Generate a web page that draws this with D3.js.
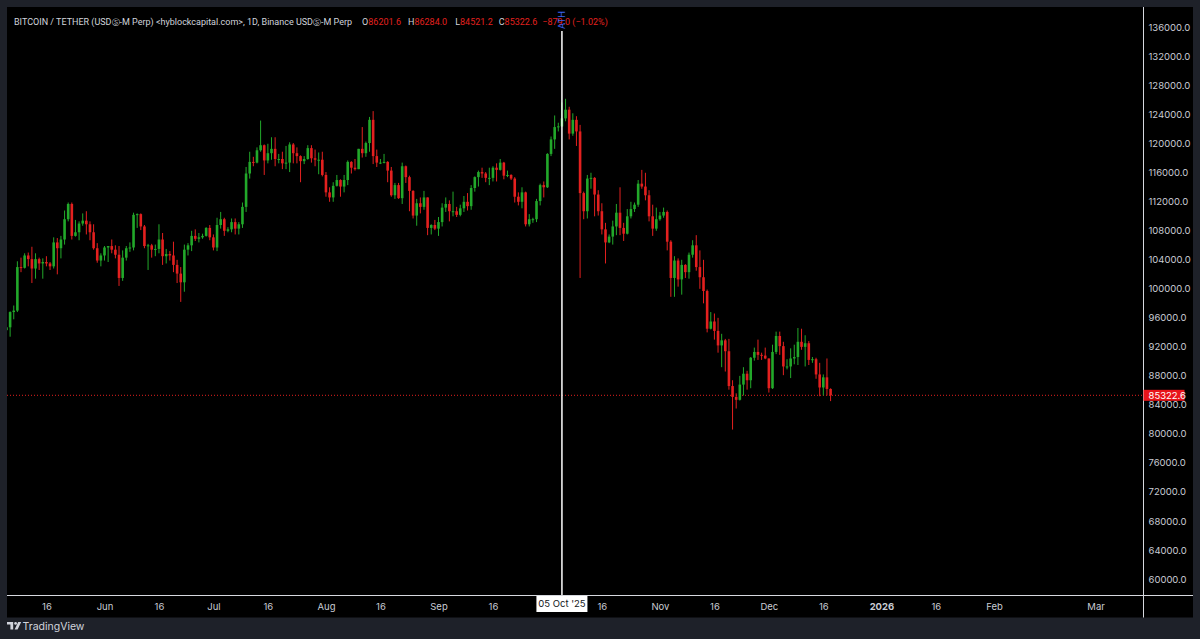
<!DOCTYPE html>
<html>
<head>
<meta charset="utf-8">
<script src="https://cdn.jsdelivr.net/npm/d3@7"></script>
<style>
  html, body { margin: 0; padding: 0; background: #1e2129; }
  svg { display: block; font-family: Inter, "Noto Sans", sans-serif; }
</style>
</head>
<body>
<div id="chart"></div>
<script>
// Daily candles [open, high, low, close], BTCUSDT perp, 1D
var startDay = Date.UTC(2025, 4, 5);   // first candle: 5 May 2025

var mayCandles = [
  [94300, 95200, 93500, 94700], [94700, 96900, 93400, 96800], [96800, 97700, 95800, 97000],
  [97000, 103800, 96800, 103000], [103000, 104300, 102300, 102900], [102900, 104900, 102800, 104600],
  [104600, 105000, 103100, 104100], [104100, 105800, 100800, 102800], [102800, 104900, 101400, 104100],
  [104100, 104300, 102600, 103500], [103500, 104200, 101400, 103700], [103700, 104500, 103100, 103500],
  [103500, 103700, 102600, 103100], [103100, 107100, 102800, 106400], [106400, 107000, 102000, 105600],
  [105600, 107300, 104200, 106800], [106800, 110800, 106100, 109600], [109600, 111900, 109300, 111700],
  [111700, 111900, 106800, 107300], [107300, 109500, 107200, 107800], [107800, 109300, 106700, 109000],
  [109000, 110400, 108700, 109400], [109400, 110700, 107500, 108900], [108900, 109300, 106700, 107800],
  [107800, 108900, 105400, 105600], [105600, 106300, 103600, 103900], [103900, 104900, 103100, 104600]
];
var junCandles = [
  [104600, 105900, 103900, 105700], [105700, 105900, 103700, 105900], [105900, 106800, 104900, 105400],
  [105400, 106000, 104200, 104700], [104700, 105900, 100400, 101500], [101500, 105300, 101100, 104300],
  [104300, 105900, 103900, 105600], [105600, 106400, 105100, 105700], [105700, 110500, 105300, 110200],
  [110200, 110400, 108400, 110300], [110300, 110400, 108100, 108600], [108600, 108800, 105600, 105900],
  [105900, 106200, 102600, 106000], [106000, 106200, 104300, 105400], [105400, 106100, 104500, 105500],
  [105500, 108900, 104900, 106800], [106800, 107700, 103300, 104500], [104500, 105500, 103500, 104800],
  [104800, 105200, 103900, 104600], [104600, 106500, 102300, 103300], [103300, 104000, 100800, 102100],
  [102100, 103000, 98200, 100900], [100900, 106100, 99600, 105400], [105400, 106300, 104600, 106000],
  [106000, 108000, 105200, 107300], [107300, 108200, 106600, 106900], [106900, 107700, 106400, 107100],
  [107100, 107600, 106900, 107300], [107300, 108500, 107200, 108400], [108400, 108800, 106700, 107100]
];
var julCandles = [
  [107100, 107500, 105300, 105700], [105700, 109800, 105200, 108800], [108800, 110600, 108300, 109600],
  [109600, 109800, 107300, 108000], [108000, 108500, 107800, 108200], [108200, 109700, 107800, 109200],
  [109200, 109700, 107500, 108300], [108300, 109200, 107500, 108900], [108900, 111900, 108400, 111300],
  [111300, 116800, 110600, 115900], [115900, 118900, 115200, 117500], [117500, 118200, 116900, 117400],
  [117400, 119500, 117300, 119100], [119100, 123200, 118900, 119800], [119800, 119900, 115700, 117700],
  [117700, 120000, 117300, 118700], [118700, 120900, 117800, 119300], [119300, 120900, 116900, 117900],
  [117900, 118600, 117300, 117900], [117900, 118900, 116500, 117300], [117300, 119700, 116500, 117400],
  [117400, 120200, 116100, 119900], [119900, 120100, 117300, 118700], [118700, 119500, 117300, 118300],
  [118300, 118400, 114700, 117600], [117600, 118300, 117200, 117900], [117900, 119800, 117800, 119400],
  [119400, 119800, 117400, 118000], [118000, 119200, 116900, 117800], [117800, 118800, 115800, 117800],
  [117800, 118900, 115500, 115700]
];
var augCandles = [
  [115700, 116100, 112700, 113300], [113300, 114000, 112000, 112600], [112600, 114700, 112000, 114200],
  [114200, 115700, 114100, 115000], [115000, 115100, 112700, 114100], [114100, 115700, 113300, 115000],
  [115000, 117700, 114300, 117500], [117500, 117600, 115900, 116700], [116700, 117900, 116300, 116500],
  [116500, 119300, 116500, 119300], [119300, 122300, 118100, 118700], [118700, 120300, 118200, 120100],
  [120100, 123700, 118900, 123300], [123300, 124500, 117200, 118300], [118300, 119200, 116800, 117400],
  [117400, 117900, 117200, 117400], [117400, 118600, 117300, 117500], [117500, 117600, 114700, 116300],
  [116300, 116800, 112700, 112900], [112900, 114600, 112400, 114300], [114300, 114600, 112400, 112500],
  [112500, 117400, 111700, 116900], [116900, 117000, 114600, 115400], [115400, 115600, 110700, 113500],
  [113500, 113600, 109700, 110100], [110100, 112400, 108700, 111800], [111800, 112600, 110400, 111300],
  [111300, 113500, 110900, 112600], [112600, 112600, 107400, 108400], [108400, 108900, 107500, 108800],
  [108800, 109500, 108100, 108300]
];
var sepCandles = [
  [108300, 109900, 107300, 109200], [109200, 111800, 108600, 111200], [111200, 112600, 110600, 111700],
  [111700, 112200, 109300, 110700], [110700, 113400, 110000, 110700], [110700, 111300, 109900, 110200],
  [110200, 111600, 110000, 111100], [111100, 112800, 110600, 112000], [112000, 113200, 110800, 111400],
  [111400, 114300, 110900, 113900], [113900, 115500, 113400, 115400], [115400, 116300, 114100, 116100],
  [116100, 116700, 115300, 115900], [115900, 116100, 114700, 115300], [115300, 116700, 114300, 115300],
  [115300, 116900, 114800, 116700], [116700, 117300, 114800, 116400], [116400, 117900, 116300, 117400],
  [117400, 117500, 115100, 115600], [115600, 116300, 115400, 115700], [115700, 115800, 115000, 115200],
  [115200, 115400, 111900, 112700], [112700, 113300, 111500, 112000], [112000, 114000, 111100, 113300],
  [113300, 113400, 108600, 108900], [108900, 110300, 108600, 109600], [109600, 109800, 109100, 109600],
  [109600, 112400, 109200, 112100], [112100, 114500, 111500, 114300], [114300, 114800, 112600, 114000]
];
var octCandles = [
  [114000, 118700, 113900, 118600], [118600, 121000, 118300, 120600], [120600, 123900, 119300, 122300],
  [122300, 122900, 121700, 122400], [122400, 125700, 122300, 123500], [123500, 126200, 123100, 124700],
  [124700, 125100, 120600, 121400], [121400, 124200, 121100, 123300], [123300, 123800, 119700, 121700],
  [121700, 122600, 101500, 113200], [113200, 113400, 109600, 110700], [110700, 115700, 109700, 115200],
  [115200, 116000, 113800, 115300], [115300, 115400, 110000, 113000], [113000, 113600, 110100, 110700],
  [110700, 111800, 107500, 108200], [108200, 109100, 103500, 106400], [106400, 107500, 106300, 107200],
  [107200, 109400, 106100, 108600], [108600, 111700, 107400, 110500], [110500, 114000, 107400, 108400],
  [108400, 109100, 106600, 107600], [107600, 111000, 107500, 110000], [110000, 112000, 109700, 111000],
  [111000, 111900, 110600, 111600], [111600, 115000, 111300, 114500], [114500, 116400, 113800, 114100],
  [114100, 116000, 112200, 112900], [112900, 113600, 109300, 110000], [110000, 111600, 107300, 108300],
  [108300, 111200, 108000, 109600]
];
var novCandles = [
  [109600, 110600, 109400, 110100], [110100, 111200, 109800, 110600], [110600, 110800, 105300, 106500],
  [106500, 106700, 98900, 101500], [101500, 104500, 98900, 103900], [103900, 104200, 100300, 101300],
  [101300, 104000, 99200, 103300], [103300, 103400, 101500, 102300], [102300, 105000, 101400, 104700],
  [104700, 106700, 104300, 106000], [106000, 107400, 102500, 103000], [103000, 105300, 100000, 101600],
  [101600, 104000, 98000, 99700], [99700, 99900, 94000, 94500], [94500, 96800, 94400, 95500],
  [95500, 96600, 93000, 94200], [94200, 96000, 91200, 92200], [92200, 93800, 89200, 92900],
  [92900, 93100, 88600, 91400], [91400, 93100, 86100, 86600], [86600, 87400, 80600, 85100],
  [85100, 85600, 83500, 84700], [84700, 88000, 84600, 86800], [86800, 89200, 85300, 88300],
  [88300, 88700, 86100, 87400], [87400, 90600, 86300, 90500], [90500, 91900, 90100, 91300],
  [91300, 93000, 90200, 90900], [90900, 91200, 90200, 90800], [90800, 91900, 90300, 90400]
];
var decCandles = [
  [90400, 90400, 85700, 86300], [86300, 92300, 86200, 91300], [91300, 94100, 91000, 93500],
  [93500, 94100, 90900, 92100], [92100, 92700, 88100, 89300], [89300, 90300, 88900, 89300],
  [89300, 91800, 87700, 90400], [90400, 92300, 89600, 90600], [90600, 94600, 89500, 92700],
  [92700, 94500, 91600, 92000], [92000, 93600, 89300, 92500], [92500, 92800, 89500, 90200],
  [90200, 90600, 89800, 90300], [90300, 90500, 87600, 88200], [88200, 89800, 85200, 86400],
  [86400, 88200, 85300, 87800], [87800, 90400, 85300, 86200], [86201.6, 86284.0, 84521.2, 85322.6]
];

// Axis ticks
var priceTicks = [60000, 64000, 68000, 72000, 76000, 80000, 84000, 88000, 92000, 96000, 100000,
                  104000, 108000, 112000, 116000, 120000, 124000, 128000, 132000, 136000];
var timeTickDates = ["2025-05-16", "2025-06-01", "2025-06-16", "2025-07-01", "2025-07-16", "2025-08-01",
                     "2025-08-16", "2025-09-01", "2025-09-16", "2025-10-16", "2025-11-01", "2025-11-16",
                     "2025-12-01", "2025-12-16", "2026-01-01", "2026-01-16", "2026-02-01", "2026-03-01"];
var timeTickLabels = ["16", "Jun", "16", "Jul", "16", "Aug", "16", "Sep", "16", "16", "Nov", "16",
                      "Dec", "16", "2026", "16", "Feb", "Mar"];

// Legend values of the last candle
var legendKeys = ["O", "H", "L", "C"];
var legendValues = ["86201.6", "86284.0", "84521.2", "85322.6"];
var legendChange = "−879.0 (−1.02%)";

var lastPrice = 85322.6;
var athDate = "2025-10-05";
var athLabel = "05 Oct '25";

// Layout
var width = 1200, height = 639;
var panel = { x: 7, y: 7, r: 1193, b: 617.5 };
var priceAxisX = 1143.5;
var timeAxisY = 595.5;

var upColor = "#22a82a", downColor = "#e3201f";
var textColor = "#c9ccd4";

var candles = [].concat(mayCandles, junCandles, julCandles, augCandles, sepCandles, octCandles, novCandles, decCandles)
  .map(function(c, i) {
    return { date: new Date(startDay + i * 864e5), o: c[0], h: c[1], l: c[2], c: c[3] };
  });

var x = d3.scaleUtc()
  .domain([new Date(Date.UTC(2025, 5, 1)), new Date(Date.UTC(2026, 2, 1))])
  .range([104.5, 1095.6]);
var y = d3.scaleLinear()
  .domain([60000, 136000])
  .range([579, 27.7]);

var svg = d3.select("#chart").append("svg")
  .attr("width", width)
  .attr("height", height);

svg.append("rect").attr("width", width).attr("height", height).attr("fill", "#1e2129");
svg.append("rect")
  .attr("x", panel.x).attr("y", panel.y)
  .attr("width", panel.r - panel.x).attr("height", panel.b - panel.y)
  .attr("fill", "#000");

svg.append("clipPath").attr("id", "plot-clip")
  .append("rect")
  .attr("x", panel.x).attr("y", panel.y)
  .attr("width", priceAxisX - panel.x).attr("height", timeAxisY - panel.y);

var plot = svg.append("g").attr("clip-path", "url(#plot-clip)");

// last price dotted line
plot.append("line")
  .attr("x1", panel.x).attr("x2", priceAxisX)
  .attr("y1", y(lastPrice)).attr("y2", y(lastPrice))
  .attr("stroke", "#e3201f").attr("stroke-width", 1)
  .attr("stroke-dasharray", "1,2");

// candles
var bodyW = 2.6;
var candle = plot.selectAll("g.candle")
  .data(candles)
  .enter()
  .append("g")
  .attr("class", "candle");

candle.append("line")
  .attr("x1", d => x(d.date)).attr("x2", d => x(d.date))
  .attr("y1", d => y(d.h)).attr("y2", d => y(d.l))
  .attr("stroke", d => d.c >= d.o ? upColor : downColor)
  .attr("stroke-width", 1);

candle.append("rect")
  .attr("x", d => x(d.date) - bodyW / 2)
  .attr("width", bodyW)
  .attr("y", d => y(Math.max(d.o, d.c)))
  .attr("height", d => Math.max(1, Math.abs(y(d.o) - y(d.c))))
  .attr("fill", d => d.c >= d.o ? upColor : downColor);

// ATH vertical line
var athX = x(new Date(athDate));
svg.append("line")
  .attr("x1", athX).attr("x2", athX)
  .attr("y1", 31).attr("y2", timeAxisY)
  .attr("stroke", "#fff").attr("stroke-width", 1.5);

// axis frame lines
svg.append("line")
  .attr("x1", panel.x).attr("x2", panel.r)
  .attr("y1", timeAxisY).attr("y2", timeAxisY)
  .attr("stroke", "#d6d8de").attr("stroke-width", 1);
svg.append("line")
  .attr("x1", priceAxisX).attr("x2", priceAxisX)
  .attr("y1", panel.y).attr("y2", panel.b)
  .attr("stroke", "#d6d8de").attr("stroke-width", 1);

// price axis
var yAxis = d3.axisRight(y)
  .tickValues(priceTicks)
  .tickFormat(d3.format(".1f"))
  .tickSize(0)
  .tickPadding(0);
var yAxisG = svg.append("g")
  .attr("transform", "translate(" + (priceAxisX + 5) + ",0)")
  .call(yAxis);
yAxisG.select(".domain").remove();
yAxisG.selectAll("text")
  .attr("fill", textColor)
  .style("font-size", "9.5px")
  .style("font-family", "Inter, sans-serif");

// last price tag
var tag = svg.append("g").attr("transform", "translate(" + priceAxisX + "," + y(lastPrice) + ")");
tag.append("rect")
  .attr("x", 0).attr("y", -5.5).attr("width", 41).attr("height", 11)
  .attr("fill", "#e8141a");
tag.append("text")
  .attr("x", 5).attr("dy", "0.35em")
  .attr("fill", "#fff")
  .style("font-size", "9.5px")
  .text(d3.format(".1f")(lastPrice));

// time axis
var xAxis = d3.axisBottom(x)
  .tickValues(timeTickDates.map(d => new Date(d)))
  .tickFormat((d, i) => timeTickLabels[i])
  .tickSize(0)
  .tickPadding(0);
var xAxisG = svg.append("g")
  .attr("transform", "translate(0," + timeAxisY + ")")
  .call(xAxis);
xAxisG.select(".domain").remove();
xAxisG.selectAll("text")
  .attr("y", 8)
  .attr("fill", textColor)
  .style("font-size", "9.5px")
  .style("font-family", "Inter, sans-serif")
  .style("font-weight", d => d.getUTCMonth() === 0 && d.getUTCDate() === 1 ? "bold" : "normal");

// ATH date tag on time axis
var dateTag = svg.append("g").attr("transform", "translate(" + athX + "," + timeAxisY + ")");
dateTag.append("rect")
  .attr("x", -25.5).attr("y", 0.5).attr("width", 51).attr("height", 16)
  .attr("fill", "#fff");
dateTag.append("text")
  .attr("y", 8.5).attr("dy", "0.35em")
  .attr("text-anchor", "middle")
  .attr("fill", "#131722")
  .style("font-size", "9.5px")
  .text(athLabel);

// header legend: one flowing line so pieces never collide
var header = svg.append("text")
  .attr("x", 14).attr("y", 21.5).attr("dy", "0.35em")
  .style("font-size", "9px")
  .style("font-family", "Roboto, sans-serif")
  .attr("fill", "#d1d4dc");
var titleParts = ["BITCOIN / TETHER (USD", "Ⓢ", "-M Perp) <hyblockcapital.com>, 1D, Binance USD", "Ⓢ", "-M Perp"];
titleParts.forEach(function(p) {
  var s = header.append("tspan").text(p);
  if (p === "Ⓢ") s.style("font-size", "7.5px");
});
var legendGaps = [10, 7, 8, 6];
legendKeys.forEach(function(k, i) {
  header.append("tspan").attr("dx", legendGaps[i]).text(k);
  header.append("tspan").attr("fill", "#e3201f").text(legendValues[i]);
});
header.append("tspan").attr("dx", 5).attr("fill", "#e3201f").text(legendChange);

// ATH label (vertical)
svg.append("text")
  .attr("transform", "translate(" + (athX + 3.5) + ",29) rotate(-90)")
  .attr("fill", "#3a63f0")
  .style("font-size", "9px")
  .text("ATH");

// TradingView footer
var logo = svg.append("g").attr("transform", "translate(7,622)").attr("fill", "#d1d4dc");
logo.append("path").attr("d", "M0,0H6.2V7.6H3.4V2.6H0Z");
logo.append("circle").attr("cx", 8.6).attr("cy", 1.4).attr("r", 1.4);
logo.append("path").attr("d", "M11.2,0H14.2L10.6,7.6H7.6Z");
svg.append("text")
  .attr("x", 22.5).attr("y", 626).attr("dy", "0.35em")
  .attr("fill", "#d1d4dc")
  .style("font-size", "10.5px")
  .text("TradingView");
</script>
</body>
</html>
